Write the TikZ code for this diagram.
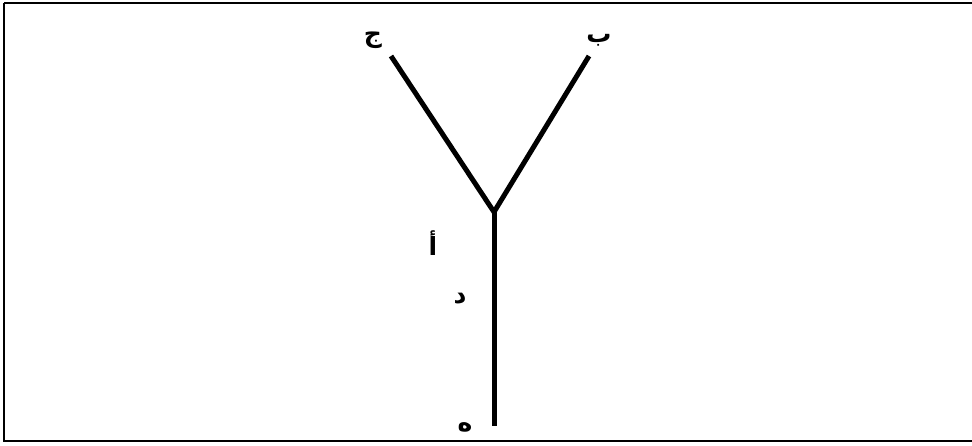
\documentclass[tikz,border=0pt]{standalone}
\usepackage{fontspec}
\TeXXeTstate=1
\newfontfamily\arabicfont[Script=Arabic]{DejaVu Sans}
\tikzset{
  branch/.style={line width=5pt, line cap=butt},
  lbl/.style={font=\arabicfont\bfseries\fontsize{25}{27}\selectfont, inner sep=0pt},
  frame/.style={line width=2pt}
}
\begin{document}
\begin{tikzpicture}[x=1pt,y=-1pt]
\useasboundingbox (0,0) rectangle (972,445);
\draw[frame] (4,3) -- (980,3);
\draw[frame] (4,3) -- (4,441) -- (980,441);
\coordinate (J) at (494,212);
\coordinate (E) at (494,426);
\coordinate (L) at (391,56);
\coordinate (R) at (589,56);
\draw[branch] (L) -- (J) -- (R);
\draw[branch] (J) -- (E);
\node[lbl] (c) at (373,40) {\beginR ج\endR};
\node[lbl] (b) at (599,40) {\beginR ب\endR};
\node[lbl] (a) at (433,243) {\beginR أ\endR};
\node[lbl] (d) at (460,299) {\beginR د\endR};
\node[lbl] (h) at (465,427) {\beginR ه\endR};
\end{tikzpicture}
\end{document}
